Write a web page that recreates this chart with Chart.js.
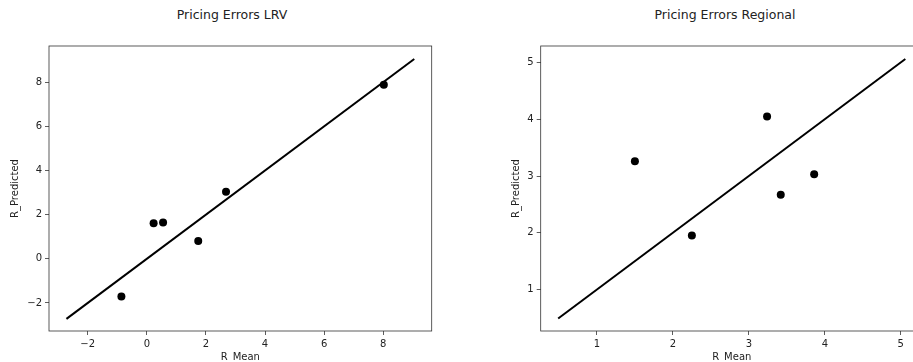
<!DOCTYPE html>
<html>
<head>
<meta charset="utf-8">
<script src="https://cdn.jsdelivr.net/npm/chart.js@4"></script>
<style>
  body { margin: 0; width: 913px; height: 362px; overflow: hidden; position: relative; background: #fff; font-family: "DejaVu Sans", sans-serif; }
  .plot { position: absolute; top: 0; }
  .ttl { position: absolute; top: 8px; width: 300px; text-align: center; font-size: 12.5px; line-height: 14px; color: #222; }
</style>
</head>
<body>
<div class="ttl" style="left: 82px;">Pricing Errors LRV</div>
<div class="ttl" style="left: 575px;">Pricing Errors Regional</div>
<div class="plot" style="left: 0px;"><canvas id="lrv" width="466" height="370"></canvas></div>
<div class="plot" style="left: 466px;"><canvas id="reg" width="518" height="370"></canvas></div>
<script>
// LRV panel data
const lrvMean = [-0.86, 0.23, 0.55, 1.74, 2.68, 8.02];
const lrvPred = [-1.71, 1.61, 1.64, 0.81, 3.04, 7.89];
const lrvLine = [-2.72, 9.05];
const lrvXTicks = [-2, 0, 2, 4, 6, 8];
const lrvYTicks = [-2, 0, 2, 4, 6, 8];

// Regional panel data
const regMean = [1.50, 2.25, 3.24, 3.42, 3.86];
const regPred = [3.26, 1.95, 4.05, 2.67, 3.03];
const regLine = [0.49, 5.06];
const regXTicks = [1, 2, 3, 4, 5];
const regYTicks = [1, 2, 3, 4, 5];

const textColor = '#222';
const tickFont = { family: 'DejaVu Sans', size: 10 };

// Draw a box around the plot area, like matplotlib spines
const framePlugin = {
    id: 'frame',
    afterDraw(chart) {
        const { ctx, chartArea: a } = chart;
        ctx.save();
        ctx.strokeStyle = '#333';
        ctx.lineWidth = 0.8;
        ctx.strokeRect(a.left, a.top, a.right - a.left, a.bottom - a.top);
        ctx.restore();
    }
};

function fmt(v) {
    return String(v).replace('-', '\u2212');
}

function makeAxis(range, ticks, title, titlePad, fitSize, horizontal) {
    return {
        type: 'linear',
        min: range[0],
        max: range[1],
        afterBuildTicks: scale => { scale.ticks = ticks.map(v => ({ value: v })); },
        afterFit: scale => {
            if (horizontal) scale.height = fitSize; else scale.width = fitSize;
        },
        grid: { display: true, drawOnChartArea: false, drawTicks: true, tickLength: 4, color: '#333', lineWidth: 0.8 },
        border: { display: false },
        ticks: { color: textColor, font: tickFont, padding: 3, maxRotation: 0, callback: v => fmt(v) },
        title: { display: true, text: title, color: textColor, font: tickFont, padding: titlePad }
    };
}

function makeChart(id, xs, ys, line, xRange, yRange, xTicks, yTicks, pad, yAxisWidth, yTitlePad) {
    const points = xs.map((x, i) => ({ x: x, y: ys[i] }));
    const linePts = line.map(v => ({ x: v, y: v }));
    return new Chart(document.getElementById(id), {
        type: 'scatter',
        data: {
            datasets: [
                {
                    data: linePts,
                    showLine: true,
                    borderColor: '#000',
                    borderWidth: 2,
                    pointRadius: 0,
                    fill: false
                },
                {
                    data: points,
                    backgroundColor: '#000',
                    borderColor: '#000',
                    pointRadius: 4,
                    pointBorderWidth: 0
                }
            ]
        },
        options: {
            responsive: false,
            animation: false,
            layout: { padding: pad },
            plugins: { legend: { display: false }, tooltip: { enabled: false }, title: { display: false } },
            scales: {
                x: makeAxis(xRange, xTicks, 'R_Mean', { top: 0, bottom: 7 }, 39, true),
                y: makeAxis(yRange, yTicks, 'R_Predicted', { top: yTitlePad, bottom: 0 }, yAxisWidth, false)
            }
        },
        plugins: [framePlugin]
    });
}

makeChart('lrv', lrvMean, lrvPred, lrvLine, [-3.31, 9.64], [-3.27, 9.64], lrvXTicks, lrvYTicks,
    { left: 0, right: 34.3, top: 46, bottom: 0 }, 49, 9);
makeChart('reg', regMean, regPred, regLine, [0.26, 5.29], [0.27, 5.29], regXTicks, regYTicks,
    { left: 36, right: 61.2, top: 46, bottom: 0 }, 38.7, 8.7);
</script>
</body>
</html>
